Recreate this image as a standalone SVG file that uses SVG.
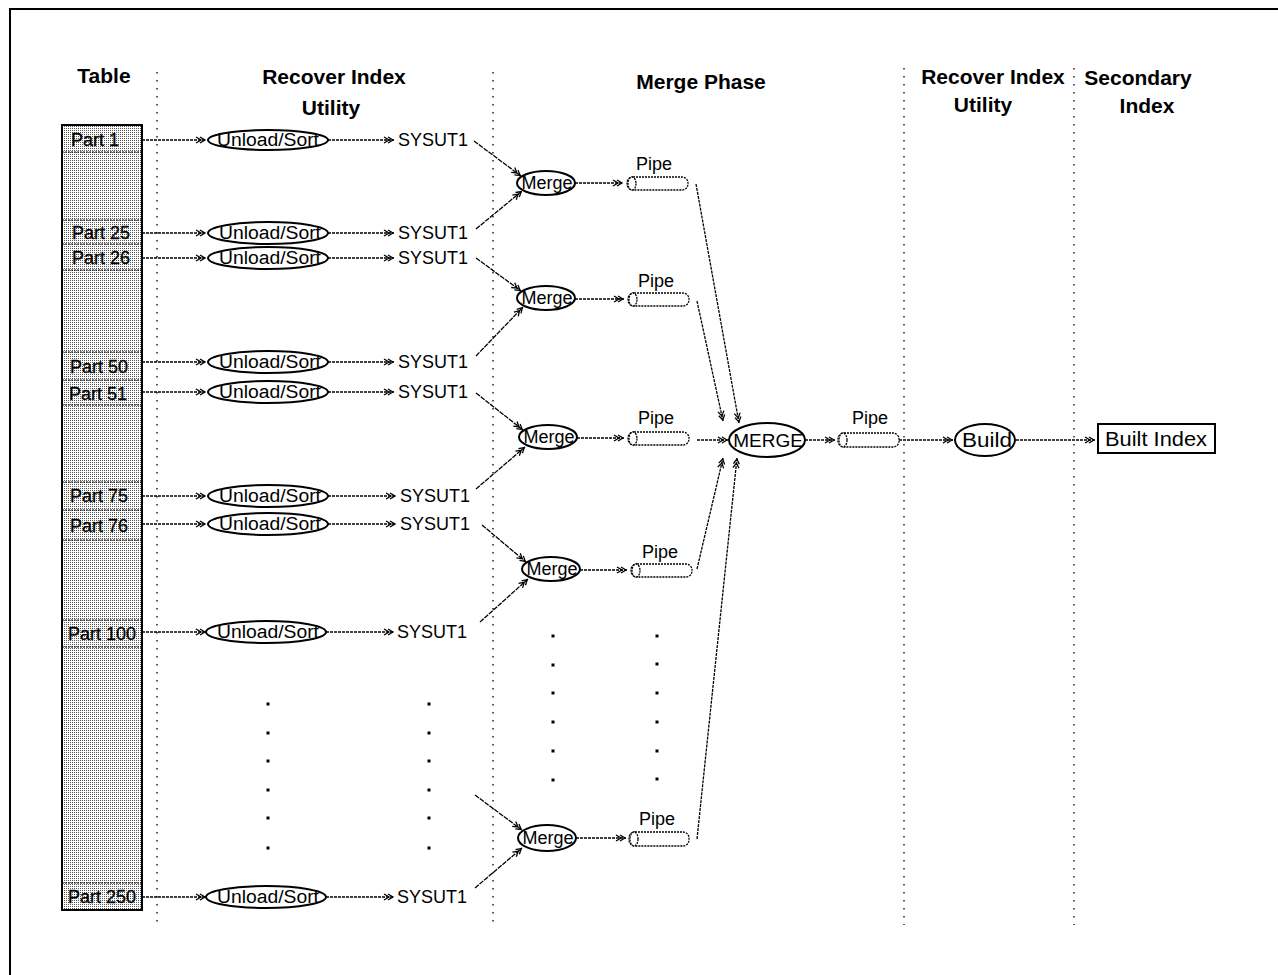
<svg xmlns="http://www.w3.org/2000/svg" width="1278" height="975" viewBox="0 0 1278 975">
<style>
text{font-family:"Liberation Sans",Arial,sans-serif;fill:#000}
.h{font-size:21px;font-weight:bold;text-anchor:middle}
.p{font-size:18px;stroke:#000;stroke-width:0.3}
.u{font-size:18px;text-anchor:middle}
.s{font-size:18px}
.c{fill:none;stroke:#000;stroke-width:1.3;stroke-dasharray:3 1}
.cs{fill:none;stroke:#000;stroke-width:1.3;stroke-dasharray:5 1}
.e{fill:#fff;stroke:#000;stroke-width:2}
.pipe{fill:#fff;stroke:#000;stroke-width:1.3;stroke-dasharray:2 1}
.sep{stroke:#000;stroke-width:1.3;stroke-dasharray:1.5 6.5}
.row{stroke:#000;stroke-width:1.2;stroke-dasharray:2 1}
.dot{fill:#000}
</style>
<defs>
<pattern id="stip" width="2" height="2" patternUnits="userSpaceOnUse">
<rect width="2" height="2" fill="#fff"/>
<rect width="1" height="1" fill="#555"/>
</pattern>
<marker id="ah" markerWidth="12" markerHeight="8" refX="11" refY="4" orient="auto" markerUnits="userSpaceOnUse">
<path d="M1,1 L6,4 L1,7 M5,1 L10,4 L5,7" fill="none" stroke="#000" stroke-width="1.3"/>
</marker>
</defs>
<rect width="1278" height="975" fill="#fff"/>
<path d="M10,975 V9 H1278" fill="none" stroke="#000" stroke-width="2"/>

<g id="separators">
<line class="sep" x1="157" y1="72" x2="157" y2="925"/>
<line class="sep" x1="493" y1="72" x2="493" y2="925"/>
<line class="sep" x1="904" y1="68" x2="904" y2="925"/>
<line class="sep" x1="1074" y1="68" x2="1074" y2="925"/>
</g>

<g id="headers">
<text class="h" x="104" y="83">Table</text>
<text class="h" x="334" y="84">Recover Index</text>
<text class="h" x="331" y="115">Utility</text>
<text class="h" x="701" y="89">Merge Phase</text>
<text class="h" x="993" y="84">Recover Index</text>
<text class="h" x="983" y="112">Utility</text>
<text class="h" x="1138" y="85">Secondary</text>
<text class="h" x="1147" y="113">Index</text>
</g>

<g id="table">
<rect x="62" y="125" width="80" height="785" fill="url(#stip)" stroke="#000" stroke-width="2"/>
<line class="row" x1="62" y1="152" x2="142" y2="152"/>
<line class="row" x1="62" y1="220" x2="142" y2="220"/>
<line class="row" x1="62" y1="244" x2="142" y2="244"/>
<line class="row" x1="62" y1="270" x2="142" y2="270"/>
<line class="row" x1="62" y1="352" x2="142" y2="352"/>
<line class="row" x1="62" y1="380" x2="142" y2="380"/>
<line class="row" x1="62" y1="405" x2="142" y2="405"/>
<line class="row" x1="62" y1="482" x2="142" y2="482"/>
<line class="row" x1="62" y1="510" x2="142" y2="510"/>
<line class="row" x1="62" y1="540" x2="142" y2="540"/>
<line class="row" x1="62" y1="620" x2="142" y2="620"/>
<line class="row" x1="62" y1="647" x2="142" y2="647"/>
<line class="row" x1="62" y1="883" x2="142" y2="883"/>
<text class="p" x="71" y="146">Part 1</text>
<text class="p" x="72" y="239">Part 25</text>
<text class="p" x="72" y="264">Part 26</text>
<text class="p" x="70" y="373">Part 50</text>
<text class="p" x="69" y="400">Part 51</text>
<text class="p" x="70" y="502">Part 75</text>
<text class="p" x="70" y="532">Part 76</text>
<text class="p" x="68" y="640">Part 100</text>
<text class="p" x="68" y="903">Part 250</text>
</g>

<g id="connectors">
<line class="c" x1="142" y1="140" x2="206" y2="140" marker-end="url(#ah)"/>
<line class="c" x1="142" y1="233" x2="206" y2="233" marker-end="url(#ah)"/>
<line class="c" x1="142" y1="258" x2="206" y2="258" marker-end="url(#ah)"/>
<line class="c" x1="142" y1="362" x2="206" y2="362" marker-end="url(#ah)"/>
<line class="c" x1="142" y1="392" x2="206" y2="392" marker-end="url(#ah)"/>
<line class="c" x1="142" y1="496" x2="206" y2="496" marker-end="url(#ah)"/>
<line class="c" x1="142" y1="524" x2="206" y2="524" marker-end="url(#ah)"/>
<line class="c" x1="142" y1="632" x2="206" y2="632" marker-end="url(#ah)"/>
<line class="c" x1="142" y1="897" x2="206" y2="897" marker-end="url(#ah)"/>
<line class="c" x1="328" y1="140" x2="394" y2="140" marker-end="url(#ah)"/>
<line class="c" x1="328" y1="233" x2="394" y2="233" marker-end="url(#ah)"/>
<line class="c" x1="328" y1="258" x2="394" y2="258" marker-end="url(#ah)"/>
<line class="c" x1="328" y1="362" x2="394" y2="362" marker-end="url(#ah)"/>
<line class="c" x1="328" y1="392" x2="394" y2="392" marker-end="url(#ah)"/>
<line class="c" x1="328" y1="496" x2="396" y2="496" marker-end="url(#ah)"/>
<line class="c" x1="328" y1="524" x2="396" y2="524" marker-end="url(#ah)"/>
<line class="c" x1="326" y1="632" x2="394" y2="632" marker-end="url(#ah)"/>
<line class="c" x1="326" y1="897" x2="394" y2="897" marker-end="url(#ah)"/>
<line class="cs" x1="474" y1="141" x2="521" y2="176" marker-end="url(#ah)"/>
<line class="cs" x1="476" y1="229" x2="522" y2="191" marker-end="url(#ah)"/>
<line class="cs" x1="476" y1="258" x2="521" y2="291" marker-end="url(#ah)"/>
<line class="cs" x1="476" y1="356" x2="523" y2="307" marker-end="url(#ah)"/>
<line class="cs" x1="476" y1="393" x2="523" y2="430" marker-end="url(#ah)"/>
<line class="cs" x1="476" y1="489" x2="525" y2="447" marker-end="url(#ah)"/>
<line class="cs" x1="482" y1="525" x2="526" y2="562" marker-end="url(#ah)"/>
<line class="cs" x1="480" y1="622" x2="528" y2="579" marker-end="url(#ah)"/>
<line class="cs" x1="475" y1="795" x2="522" y2="830" marker-end="url(#ah)"/>
<line class="cs" x1="475" y1="888" x2="522" y2="848" marker-end="url(#ah)"/>
<line class="c" x1="575" y1="183" x2="623" y2="183" marker-end="url(#ah)"/>
<line class="c" x1="575" y1="299" x2="624" y2="299" marker-end="url(#ah)"/>
<line class="c" x1="577" y1="438" x2="624" y2="438" marker-end="url(#ah)"/>
<line class="c" x1="580" y1="570" x2="627" y2="570" marker-end="url(#ah)"/>
<line class="c" x1="576" y1="838" x2="626" y2="838" marker-end="url(#ah)"/>
<line class="c" x1="696" y1="184" x2="739" y2="423" marker-end="url(#ah)"/>
<line class="c" x1="697" y1="301" x2="723" y2="421" marker-end="url(#ah)"/>
<line class="c" x1="697" y1="440" x2="728" y2="440" marker-end="url(#ah)"/>
<line class="c" x1="697" y1="569" x2="723" y2="458" marker-end="url(#ah)"/>
<line class="c" x1="697" y1="839" x2="737" y2="458" marker-end="url(#ah)"/>
<line class="c" x1="805" y1="440" x2="835" y2="440" marker-end="url(#ah)"/>
<line class="c" x1="899" y1="440" x2="953" y2="440" marker-end="url(#ah)"/>
<line class="c" x1="1016" y1="440" x2="1095" y2="440" marker-end="url(#ah)"/>
</g>

<g id="unload-sort">
<ellipse class="e" cx="268" cy="140" rx="60" ry="10"/>
<text class="u" x="268" y="146" textLength="102" lengthAdjust="spacingAndGlyphs">Unload/Sort</text>
<ellipse class="e" cx="268" cy="233" rx="60" ry="11"/>
<text class="u" x="270" y="239" textLength="102" lengthAdjust="spacingAndGlyphs">Unload/Sort</text>
<ellipse class="e" cx="268" cy="258" rx="60" ry="11"/>
<text class="u" x="270" y="264" textLength="102" lengthAdjust="spacingAndGlyphs">Unload/Sort</text>
<ellipse class="e" cx="268" cy="362" rx="60" ry="11"/>
<text class="u" x="270" y="368" textLength="102" lengthAdjust="spacingAndGlyphs">Unload/Sort</text>
<ellipse class="e" cx="268" cy="392" rx="60" ry="11"/>
<text class="u" x="270" y="398" textLength="102" lengthAdjust="spacingAndGlyphs">Unload/Sort</text>
<ellipse class="e" cx="268" cy="496" rx="60" ry="11"/>
<text class="u" x="270" y="502" textLength="102" lengthAdjust="spacingAndGlyphs">Unload/Sort</text>
<ellipse class="e" cx="268" cy="524" rx="60" ry="11"/>
<text class="u" x="270" y="530" textLength="102" lengthAdjust="spacingAndGlyphs">Unload/Sort</text>
<ellipse class="e" cx="266" cy="632" rx="60" ry="11"/>
<text class="u" x="268" y="638" textLength="102" lengthAdjust="spacingAndGlyphs">Unload/Sort</text>
<ellipse class="e" cx="266" cy="897" rx="60" ry="11"/>
<text class="u" x="268" y="903" textLength="102" lengthAdjust="spacingAndGlyphs">Unload/Sort</text>
</g>

<g id="sysut1">
<text class="s" x="398" y="146">SYSUT1</text>
<text class="s" x="398" y="239">SYSUT1</text>
<text class="s" x="398" y="264">SYSUT1</text>
<text class="s" x="398" y="368">SYSUT1</text>
<text class="s" x="398" y="398">SYSUT1</text>
<text class="s" x="400" y="502">SYSUT1</text>
<text class="s" x="400" y="530">SYSUT1</text>
<text class="s" x="397" y="638">SYSUT1</text>
<text class="s" x="397" y="903">SYSUT1</text>
</g>

<g id="merges">
<ellipse class="e" cx="546" cy="183" rx="29" ry="12"/>
<text class="u" x="547" y="189">Merge</text>
<ellipse class="e" cx="546" cy="298" rx="29" ry="12"/>
<text class="u" x="547" y="304">Merge</text>
<ellipse class="e" cx="548" cy="437" rx="29" ry="12"/>
<text class="u" x="549" y="443">Merge</text>
<ellipse class="e" cx="551" cy="569" rx="29" ry="12"/>
<text class="u" x="552" y="575">Merge</text>
<ellipse class="e" cx="547" cy="838" rx="29" ry="13"/>
<text class="u" x="548" y="844">Merge</text>
</g>

<g id="pipes">
<rect class="pipe" x="627" y="177" width="61" height="13" rx="6"/>
<ellipse class="pipe" cx="632" cy="183.5" rx="4" ry="6.5"/>
<text class="u" x="654" y="170">Pipe</text>
<rect class="pipe" x="628" y="293" width="61" height="13" rx="6"/>
<ellipse class="pipe" cx="633" cy="299.5" rx="4" ry="6.5"/>
<text class="u" x="656" y="287">Pipe</text>
<rect class="pipe" x="628" y="432" width="61" height="13" rx="6"/>
<ellipse class="pipe" cx="633" cy="438.5" rx="4" ry="6.5"/>
<text class="u" x="656" y="424">Pipe</text>
<rect class="pipe" x="631" y="564" width="61" height="13" rx="6"/>
<ellipse class="pipe" cx="636" cy="570.5" rx="4" ry="6.5"/>
<text class="u" x="660" y="558">Pipe</text>
<rect class="pipe" x="629" y="832" width="60" height="14" rx="6"/>
<ellipse class="pipe" cx="634" cy="839" rx="4" ry="7"/>
<text class="u" x="657" y="825">Pipe</text>
</g>

<g id="ellipsis-dots">
<rect class="dot" x="266.5" y="702.5" width="3" height="3"/>
<rect class="dot" x="266.5" y="731.5" width="3" height="3"/>
<rect class="dot" x="266.5" y="759.5" width="3" height="3"/>
<rect class="dot" x="266.5" y="788.5" width="3" height="3"/>
<rect class="dot" x="266.5" y="816.5" width="3" height="3"/>
<rect class="dot" x="266.5" y="846.5" width="3" height="3"/>
<rect class="dot" x="427.5" y="702.5" width="3" height="3"/>
<rect class="dot" x="427.5" y="731.5" width="3" height="3"/>
<rect class="dot" x="427.5" y="759.5" width="3" height="3"/>
<rect class="dot" x="427.5" y="788.5" width="3" height="3"/>
<rect class="dot" x="427.5" y="816.5" width="3" height="3"/>
<rect class="dot" x="427.5" y="846.5" width="3" height="3"/>
<rect class="dot" x="551.5" y="634.5" width="3" height="3"/>
<rect class="dot" x="551.5" y="663.5" width="3" height="3"/>
<rect class="dot" x="551.5" y="691.5" width="3" height="3"/>
<rect class="dot" x="551.5" y="720.5" width="3" height="3"/>
<rect class="dot" x="551.5" y="749.5" width="3" height="3"/>
<rect class="dot" x="551.5" y="778.5" width="3" height="3"/>
<rect class="dot" x="655.5" y="634.5" width="3" height="3"/>
<rect class="dot" x="655.5" y="662.5" width="3" height="3"/>
<rect class="dot" x="655.5" y="691.5" width="3" height="3"/>
<rect class="dot" x="655.5" y="720.5" width="3" height="3"/>
<rect class="dot" x="655.5" y="749.5" width="3" height="3"/>
<rect class="dot" x="655.5" y="777.5" width="3" height="3"/>
</g>

<g id="final-merge">
<ellipse class="e" cx="767" cy="440" rx="38" ry="17"/>
<text class="u" x="768" y="447" style="font-size:19px">MERGE</text>
</g>

<g id="final-pipe">
<rect class="pipe" x="838" y="433" width="61" height="14" rx="6"/>
<ellipse class="pipe" cx="843" cy="440" rx="4" ry="7"/>
<text class="u" x="870" y="424">Pipe</text>
</g>

<g id="build">
<ellipse class="e" cx="985" cy="440" rx="30" ry="16"/>
<text class="u" x="987" y="447" style="font-size:20px" textLength="50" lengthAdjust="spacingAndGlyphs">Build</text>
</g>

<g id="built-index">
<rect x="1098" y="424" width="117" height="29" fill="#fff" stroke="#000" stroke-width="2"/>
<text class="u" x="1156" y="446" style="font-size:20px" textLength="102" lengthAdjust="spacingAndGlyphs">Built Index</text>
</g>
</svg>
